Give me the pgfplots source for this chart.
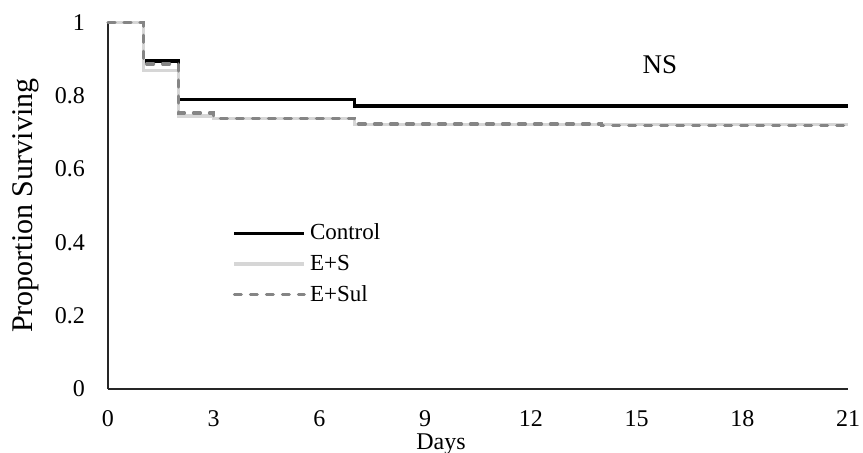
\documentclass[border=0pt]{standalone}
\usepackage{fontspec}
\setmainfont{Liberation Serif}
\usepackage{pgfplots}
\pgfplotsset{compat=1.18}

\definecolor{esgrey}{HTML}{D6D6D6}
\definecolor{sulgrey}{HTML}{858585}

\begin{document}
\begin{tikzpicture}
  % frame of the whole picture (px * 0.5 = pt)
  \useasboundingbox (-54pt,-31.5pt) rectangle (377.5pt,194.5pt);
  \begin{axis}[
    at={(0,0)}, anchor=south west,
    scale only axis,
    width=370pt, height=183.25pt,
    xmin=0, xmax=21, ymin=0, ymax=1,
    xtick={0,3,...,21},
    ytick={0,0.2,...,1},
    yticklabels={0,0.2,0.4,0.6,0.8,1},
    axis x line=bottom, axis y line=left,
    axis line style={-, line width=0.9pt, black!85},
    major tick length=0pt,
    clip=false,
    const plot,
    /pgf/number format/assume math mode=true,
    tick label style={font=\fontsize{12}{14}\selectfont},
    xticklabel style={anchor=center, yshift=-15pt},
    yticklabel style={anchor=east, xshift=-8pt},
    xlabel={Days}, ylabel={Proportion Surviving},
    xlabel style={font=\fontsize{12}{14}\selectfont,
      at={(axis description cs:0.45,0)}, anchor=center, yshift=-27.5pt},
    ylabel style={font=\fontsize{15}{17}\selectfont,
      at={(axis description cs:-0.111,0.5)}, anchor=center},
    legend style={draw=none, fill=none, at={(axis description cs:0.16,0.341)},
      anchor=west, row sep=2pt, font=\fontsize{11.5}{13}\selectfont,
      nodes={inner xsep=2pt}},
    legend cell align=left,
    legend image code/.code={\draw[#1] (0pt,0pt) -- (35pt,0pt);},
    ]
    \addplot[black, line width=1.6pt] coordinates {
      (0,1) (1,0.895) (2,0.791) (7,0.772) (21,0.772)
    };
    \addplot[esgrey, line width=1.6pt] coordinates {
      (0,1) (1,0.870) (2,0.745) (3,0.739) (7,0.722) (21,0.722)
    };
    \addplot[sulgrey, line width=1.6pt, line cap=round,
      dash pattern=on 3.5pt off 4.5pt] coordinates {
      (0,1) (1,0.887) (2,0.753) (3,0.739) (7,0.723) (14,0.718) (21,0.718)
    };
    \legend{Control, E+S, E+Sul}
    \node at (axis cs:15.66,0.884) {\fontsize{13.5}{16}\selectfont NS};
  \end{axis}
\end{tikzpicture}
\end{document}
